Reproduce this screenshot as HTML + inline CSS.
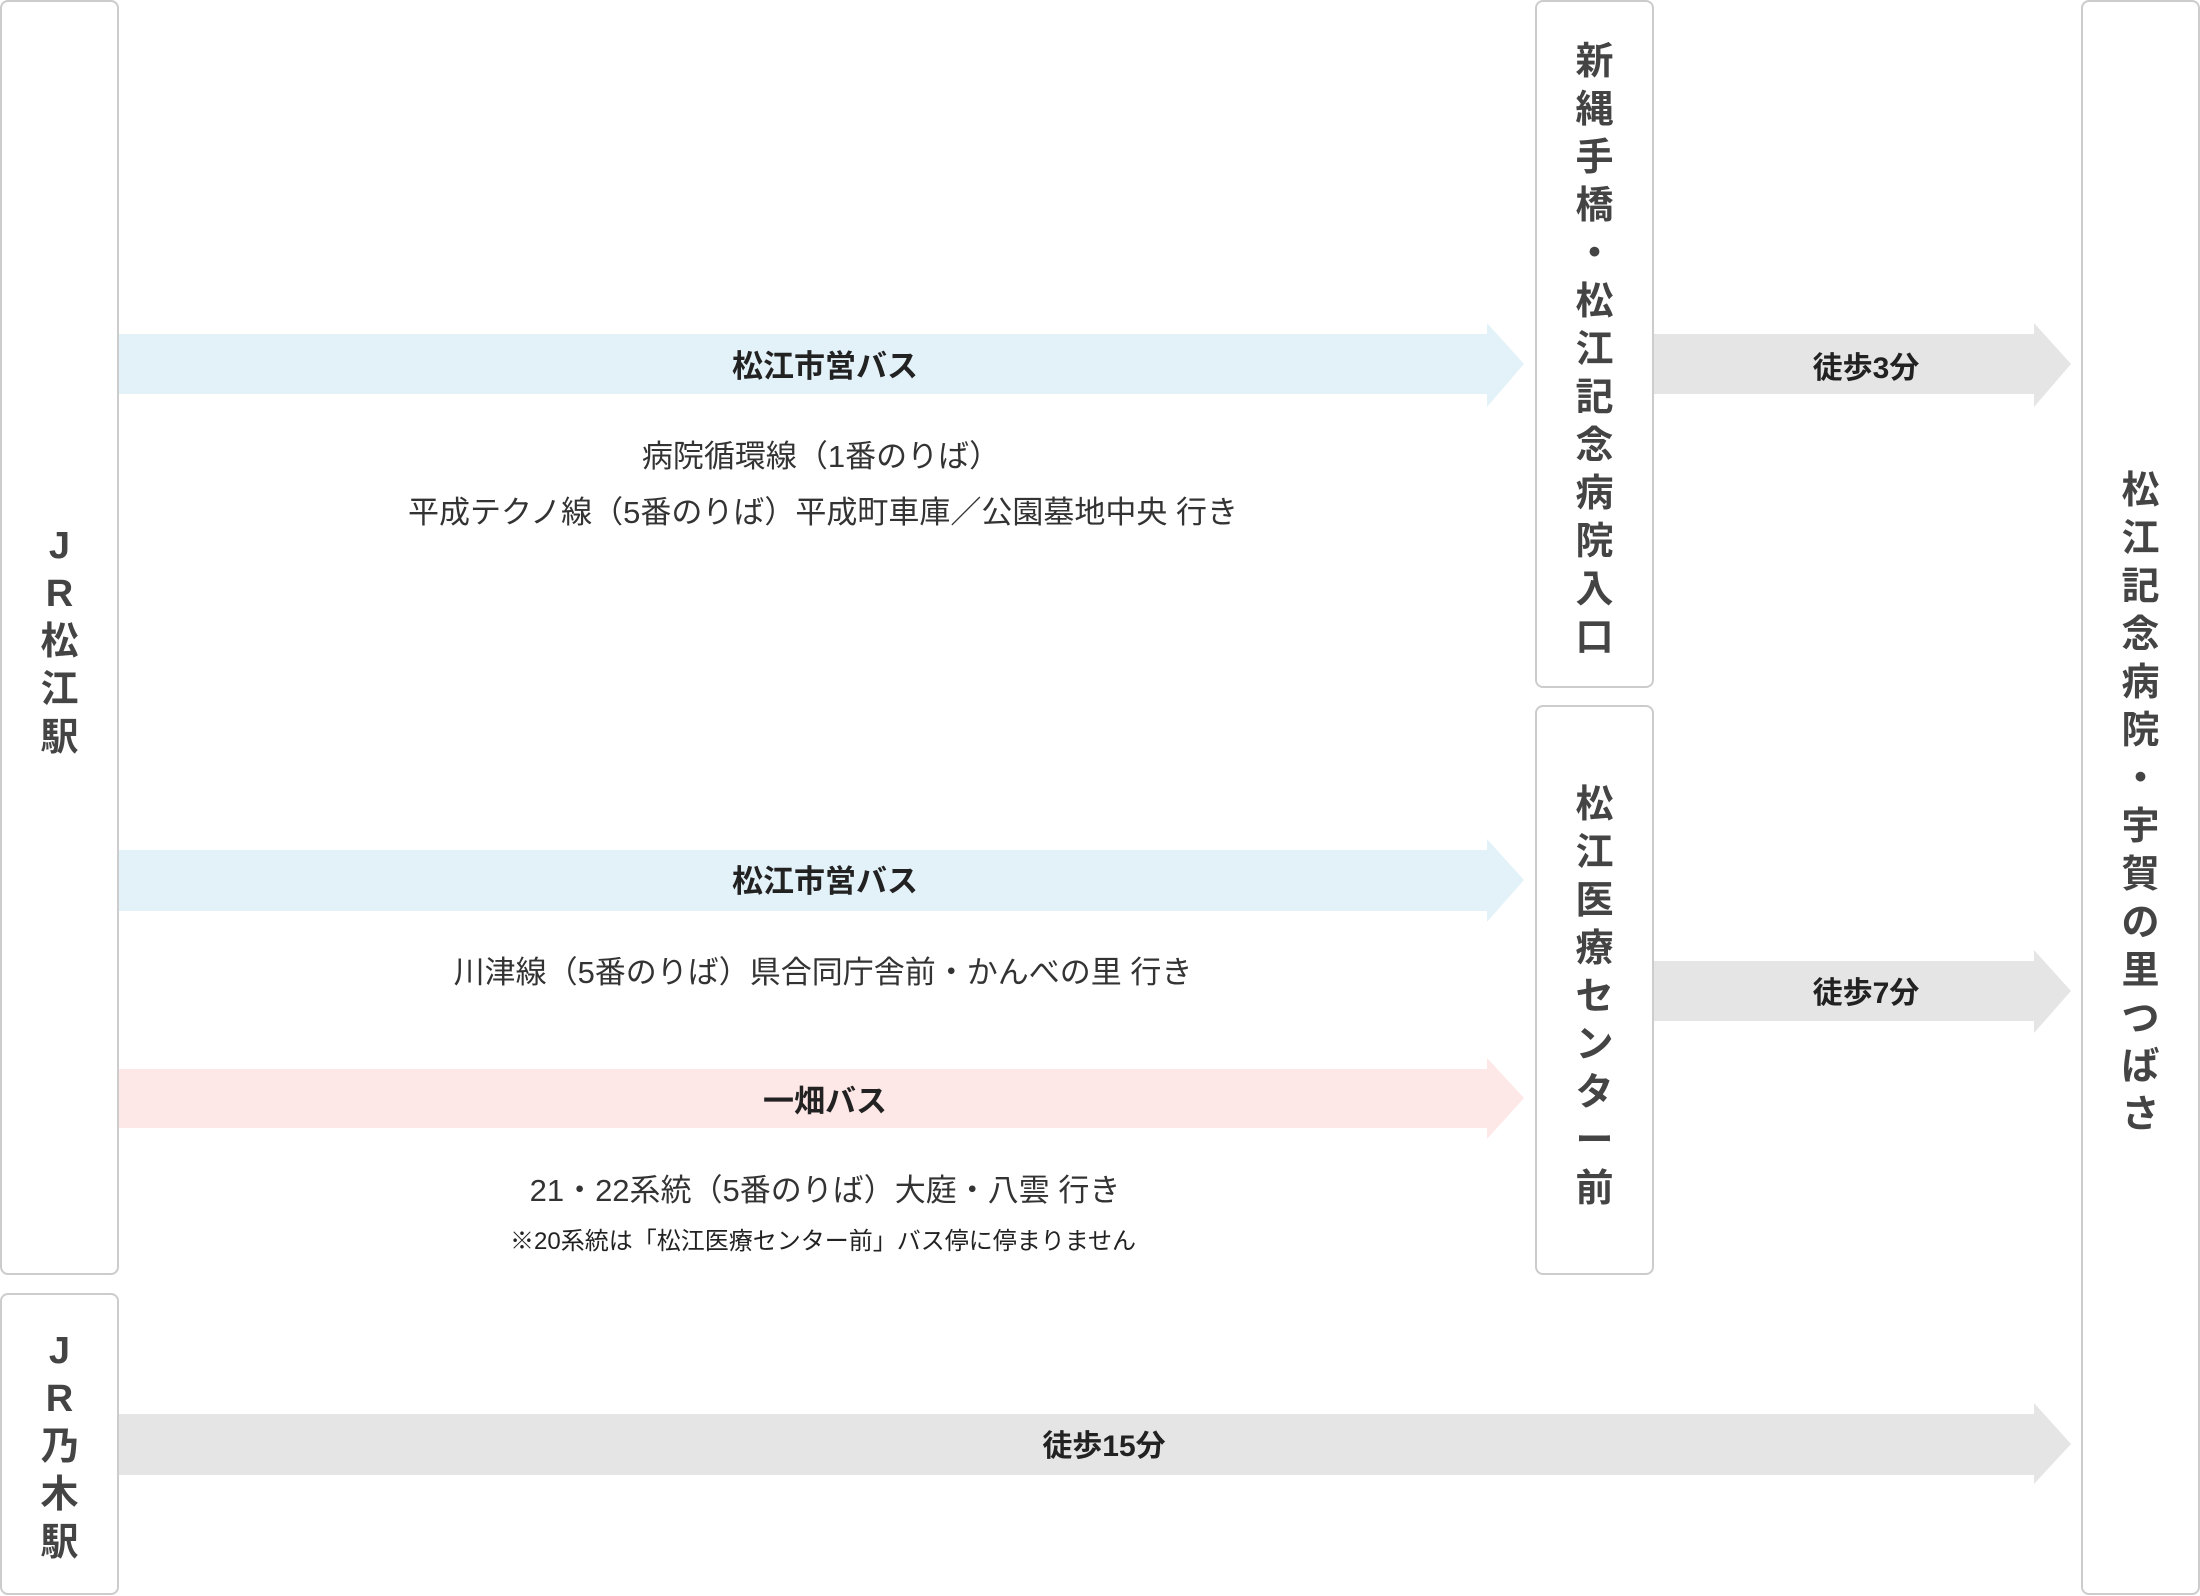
<!DOCTYPE html>
<html><head><meta charset="utf-8"><style>
html,body{margin:0;padding:0;background:#fff}
body{width:2200px;height:1596px;position:relative;overflow:hidden;font-family:"Liberation Sans","Noto Sans CJK JP",sans-serif;color:#333}
.box{position:absolute;box-sizing:border-box;border:2px solid #ccc;border-radius:8px;background:#fff}
.v{position:absolute;left:0;right:0;text-align:center;font-weight:bold;font-size:38px;line-height:48px;color:#444}
.t{position:absolute;white-space:nowrap;transform:translateX(-50%);text-align:center}
.b{font-weight:bold;font-size:31px;color:#222}
.n{font-size:31px;color:#333}
</style></head><body>
<svg width="2200" height="1596" style="position:absolute;left:0;top:0">
<polygon points="119,334 1487,334 1487,323 1524,364 1487,407 1487,394 119,394" fill="#e3f2f9"/>
<polygon points="119,850 1487,850 1487,839 1524,880 1487,922 1487,911 119,911" fill="#e3f2f9"/>
<polygon points="119,1069 1487,1069 1487,1058 1524,1098 1487,1139 1487,1128 119,1128" fill="#fde7e7"/>
<polygon points="1653,334 2034,334 2034,323 2071,364 2034,407 2034,394 1653,394" fill="#e5e5e5"/>
<polygon points="1653,961 2034,961 2034,950 2071,991 2034,1033 2034,1021 1653,1021" fill="#e5e5e5"/>
<polygon points="119,1414 2034,1414 2034,1403 2071,1444 2034,1484 2034,1475 119,1475" fill="#e5e5e5"/>
</svg>
<div class="box" style="left:0;top:0;width:119px;height:1275px"><div class="v" style="top:520px">J<br>R<br>松<br>江<br>駅</div></div>
<div class="box" style="left:0;top:1293px;width:119px;height:302px"><div class="v" style="top:32px">J<br>R<br>乃<br>木<br>駅</div></div>
<div class="box" style="left:1535px;top:0;width:119px;height:688px"><div class="v" style="top:36px">新<br>縄<br>手<br>橋<br>・<br>松<br>江<br>記<br>念<br>病<br>院<br>入<br>口</div></div>
<div class="box" style="left:1535px;top:705px;width:119px;height:570px"><div class="v" style="top:74px">松<br>江<br>医<br>療<br>セ<br>ン<br>タ<br>ー<br>前</div></div>
<div class="box" style="left:2081px;top:0;width:119px;height:1595px"><div class="v" style="top:465px">松<br>江<br>記<br>念<br>病<br>院<br>・<br>宇<br>賀<br>の<br>里<br>つ<br>ば<br>さ</div></div>
<div class="t b" style="left:825px;top:341px">松江市営バス</div>
<div class="t n" style="left:821px;top:431px">病院循環線（1番のりば）</div>
<div class="t n" style="left:823px;top:487px">平成テクノ線（5番のりば）平成町車庫／公園墓地中央 行き</div>
<div class="t b" style="left:825px;top:856px">松江市営バス</div>
<div class="t n" style="left:823px;top:947px">川津線（5番のりば）県合同庁舎前・かんべの里 行き</div>
<div class="t b" style="left:825px;top:1076px">一畑バス</div>
<div class="t n" style="left:825px;top:1165px">21・22系統（5番のりば）大庭・八雲 行き</div>
<div class="t" style="left:823px;top:1221px;font-size:24px;color:#222">※20系統は「松江医療センター前」バス停に停まりません</div>
<div class="t b" style="left:1866px;top:343px;font-size:30px">徒歩3分</div>
<div class="t b" style="left:1866px;top:968px;font-size:30px">徒歩7分</div>
<div class="t b" style="left:1104px;top:1421px;font-size:30px">徒歩15分</div>
</body></html>
